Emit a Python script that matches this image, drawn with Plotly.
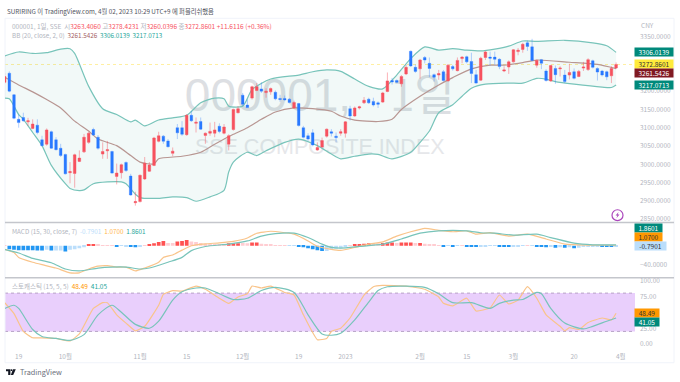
import plotly.graph_objects as go

# ---------- candle data ----------
opens = [3224,3249,3190,3123,3128,3116,3098,3107,3067,3055,3089,3067,3044,3027,2977,2975,3008,3034,3060,3095,
         3074,3028,3037,3035,2967,2977,3005,2968,2895,2898,2960,2981,2997,3063,3077,3064,3030,3100,3100,3081,
         3134,3112,3117,3079,3085,3085,3104,3085,3055,3095,3141,3189,3162,3181,3202,3206,3196,3198,3197,3180,
         3180,3178,3154,3166,3100,3078,3086,3039,3047,3077,3089,3077,3085,3085,3152,3132,3154,3168,3178,3172,
         3168,3170,3199,3229,3229,3220,3247,3309,3265,3261,3292,3276,3245,3244,3253,3228,3267,3256,3289,3294,
         3281,3245,3230,3292,3293,3293,3287,3255,3266,3280,3308,3314,3332,3321,3271,3286,3255,3228,3262,3261,
         3244,3244,3253,3240,3263,3259,3283,3262,3255,3253,3242,3263.4060]
highs = [3250,3254,3192,3136,3141,3127,3123,3123,3078,3098,3092,3074,3056,3029,3006,3029,3038,3083,3089,3100,
         3080,3060,3064,3037,3002,3002,3008,2974,2925,2972,3020,3006,3075,3089,3080,3069,3046,3110,3118,3137,
         3146,3128,3128,3087,3114,3116,3112,3110,3082,3152,3159,3195,3177,3215,3222,3224,3208,3210,3202,3190,
         3188,3181,3174,3168,3105,3085,3096,3060,3073,3098,3096,3087,3096,3118,3160,3158,3160,3184,3182,3182,
         3172,3198,3251,3236,3232,3244,3272,3311,3273,3288,3296,3292,3248,3258,3258,3274,3272,3292,3296,3297,
         3305,3258,3294,3310,3308,3308,3290,3268,3284,3315,3318,3332,3338,3343,3286,3288,3260,3272,3270,3268,
         3258,3275,3262,3258,3280,3290,3286,3265,3258,3256,3268,3278.4231]
lows = [3220,3197,3123,3100,3116,3105,3096,3082,3049,3051,3042,3038,3020,2972,2948,2936,3006,3031,3056,3078,
        3040,3015,3015,2974,2945,2961,2979,2914,2887,2896,2957,2979,2995,3060,3056,3046,3022,3069,3078,3078,
        3116,3087,3094,3056,3078,3074,3085,3082,3038,3092,3139,3159,3154,3177,3200,3195,3182,3190,3175,3171,
        3174,3166,3152,3103,3071,3064,3049,3037,3045,3073,3076,3060,3078,3073,3120,3130,3150,3165,3165,3158,
        3154,3168,3197,3218,3222,3212,3244,3266,3250,3234,3276,3238,3226,3231,3226,3226,3256,3254,3276,3276,
        3222,3220,3228,3285,3270,3272,3260,3252,3247,3278,3298,3305,3310,3282,3264,3260,3226,3225,3220,3240,
        3222,3232,3232,3238,3255,3255,3262,3229,3240,3230,3222,3260.0396]
closes = [3240,3200,3126,3114,3119,3119,3110,3087,3051,3094,3044,3040,3024,2974,2980,3026,3017,3074,3085,3080,
          3044,3035,3040,2976,2976,2999,2983,2916,2898,2970,3003,2998,3072,3078,3063,3048,3036,3086,3082,3134,
          3119,3115,3096,3085,3090,3094,3090,3102,3078,3150,3152,3164,3155,3212,3212,3200,3200,3207,3179,3177,
          3176,3169,3169,3106,3074,3069,3053,3046,3065,3096,3085,3073,3089,3116,3132,3154,3157,3175,3168,3162,
          3164,3195,3228,3225,3224,3240,3265,3269,3254,3285,3285,3262,3238,3248,3229,3271,3261,3284,3293,3280,
          3248,3222,3290,3307,3290,3287,3267,3258,3280,3313,3312,3328,3322,3284,3284,3276,3229,3270,3245,3263,
          3226,3251,3235,3254,3266,3286,3265,3252,3244,3239,3262,3272.8601]

# ---------- Bollinger bands ----------
upper_x = [0,3,6,9,12,14,15,18,21,24,27,28,30,33,36,39,42,45,47,48,51,53,57,63,66,69,72,75,78,81,84,87,90,93,96,99,
           102,105,108,111,114,120,126,129,131]
upper_v = [3296,3307,3303,3305,3315,3316,3303,3213,3152,3136,3116,3121,3105,3121,3127,3134,3168,3181,3179,3159,
           3159,3204,3233,3244,3253,3258,3254,3233,3213,3206,3244,3289,3321,3312,3316,3312,3310,3315,3323,3337,
           3336,3339,3332,3324,3306.0139]
mid_x = [0,3,6,9,12,15,18,20,24,27,29,32,33,38,42,45,49,52,55,58,62,66,70,72,75,80,83,85,89,93,96,100,104,107,111,
         114,121,127,131]
mid_v = [3238,3217,3198,3177,3154,3118,3091,3069,3051,3024,3006,3001,3015,3022,3033,3055,3082,3100,3123,3143,
         3154,3152,3145,3132,3121,3117,3123,3150,3186,3217,3237,3261,3271,3271,3278,3285,3279,3273,3261.5426]
lower_x = [0,1,3,4,6,8,10,13,14,16,17,19,22,25,26,28,29,33,36,39,41,44,47,48,49,52,54,56,60,63,67,70,72,75,78,80,83,
           87,89,91,93,96,98,100,103,108,111,114,116,118,122,128,130,131]
lower_v = [3181,3179,3136,3123,3087,3051,2997,2947,2934,2928,2930,2947,2952,2952,2947,2918,2909,2907,2911,2909,
           2899,2911,2929,2979,3006,3033,3024,3037,3060,3069,3051,3028,3015,3022,3028,3027,3015,3033,3060,3091,
           3141,3163,3186,3208,3219,3222,3222,3235,3233,3226,3219,3211,3210,3217.0713]

# ---------- MACD ----------
macd_x = [0,2,3,6,8,11,14,16,18,20,22,24,26,28,30,33,34,36,38,40,43,46,49,52,54,57,60,62,65,67,70,72,75,78,81,84,87,
          90,93,96,99,101,104,108,112,116,120,125,131]
macd_v = [-7,-14,-24,-34,-39,-46,-56,-56,-48,-42,-41,-44,-44,-52,-46,-34,-24,-19,-9,0,4,6,9,16,26,30,27,24,10,-1,
          -7.5,-9.5,-3.4,3.4,8,20,29,36,32,29,31,24,27,20,24,14,3.4,1.4,1.07]
signal_x = [0,3,6,10,13,16,20,23,26,29,31,35,38,40,43,48,52,55,58,62,65,68,70,72,76,81,85,89,93,99,102,105,109,114,
            117,122,126,131]
signal_v = [-8,-15,-26,-35,-48,-52,-46,-44,-44,-48,-46,-34,-24,-10,-1.4,3.4,10,20,25,26,17,3.4,-3.4,-4.8,-1.4,3.4,
            14,26,31,31,27,26,22,24,17,5.4,2,1.86]
hist_v = [1,-7,-8,-9,-9,-9,-9,-10,-10,-8,-10,-10,-10,-12,-8,-7,-5,-3,2,3,
          2,1,1,1,-2,-0.5,-1,-2,-3,-1,1,2,5,8,10,6,6,9,10,12,
          9,8,6,4,3,3,3,3,5,5,5,6,5,7,7,4,3,2,1,1,
          0.5,-0.5,-0.5,-2,-3,-5,-7,-9,-11,-11,-8,-6,-5,-2,1,3,3,4,5,5,
          5,6,7,7,6,7,7,7,6,6,4,3,2,1,-1,-0.5,-1,-0.5,0.5,-1,
          -2,-2.5,-1.5,-1,-0.5,-0.5,-1.5,-2,-2,-2,-1,-0.5,1,-0.5,-2,-2,-3,-2,-4,-3,
          -4,-3,-5,-4,-2,-1.5,-1,-1,-1.5,-1.5,-1.5,-0.79]
hist_strong = [0,1,1,1,1,1,1,1,1,0,1,0,0,1,0,0,0,0,1,1,
               0,0,0,0,1,0,0,1,1,0,0,1,1,1,1,0,0,1,1,1,
               0,0,0,0,0,0,0,0,1,1,1,0,0,1,1,0,0,0,0,0,
               0,0,0,1,1,1,1,1,1,0,0,0,0,0,0,1,1,1,1,0,
               0,1,1,1,0,1,1,1,0,1,0,0,0,0,1,0,1,0,0,1,
               1,1,0,0,0,0,1,1,1,0,0,0,0,0,1,1,1,0,1,0,
               1,0,1,0,0,0,0,0,1,1,1,0]

# ---------- Stochastic ----------
k_x = [0,2,4,6,8,11,14,16,19,21,22,24,26,28,30,33,34,36,38,41,43,46,48,50,52,53,55,57,60,62,64,67,69,70,72,74,77,79,
       81,86,90,93,94,96,99,101,104,106,108,110,112,114,116,119,120,121,123,125,128,130,131]
k_v = [65,48,20,10,10,9,5,16,56,65,65,46,33,21,28,61,78,84,83,91,86,72,64,74,79,91,88,91,81,77,46,7,9,20,25,41,77,90,
       92,91,86,74,64,60,72,52,57,77,63,69,90,72,46,28,21,26,23,34,41,38,48.49]
d_x = [0,2,3,6,8,11,14,17,20,23,25,28,31,33,36,38,41,43,46,49,52,55,58,62,65,68,70,72,75,78,80,82,86,90,93,96,100,
       104,106,109,111,114,115,117,120,124,126,129,131]
d_v = [56,61,56,23,12,9,6,15,46,61,50,31,25,36,69,82,88,88,79,70,72,84,89,81,46,16,14,17,38,66,84,90,91,89,79,65,65,
       56,64,69,70,81,79,56,33,24,28,36,41.05]

# ---------- axis labels ----------
x_tick_pos = [3,13,29,39,51,63,73,89,99,109,122,132]
x_tick_text = ["19","10월","11월","15","12월","19","2023","2월","15","3월","20","4월"]
price_ticks = [2850,2900,2950,3000,3050,3100,3150,3200,3350]
stoch_ticks = [0,25,75,100]
candle_x = list(range(len(closes)))

W, H = 680, 382
FONT = "Noto Sans CJK KR, Noto Sans, sans-serif"
GRAY = "#B2B5BE"
TEAL = "#00897B"
def px(x): return x / W
def py(y): return 1 - y / H
def pp(pts):
    return "M " + " L ".join(f"{px(a):.5f},{py(b):.5f}" for a, b in pts) + " Z"

fig = go.Figure()

# watermark (kept in the base subplot, beneath the candles)
wm = "#DDDFE3"
fig.add_trace(go.Scatter(x=[38.6], y=[3176], mode="text", text=["000001,"], xaxis="x", yaxis="y",
                         textposition="middle right", textfont=dict(size=46, color=wm, family="Liberation Sans"),
                         hoverinfo="skip"))
fig.add_trace(go.Scatter(x=[89.5], y=[3176], mode="text", text=["1일"], xaxis="x", yaxis="y",
                         textposition="middle center", textfont=dict(size=44, color=wm, family="Noto Sans CJK KR"),
                         hoverinfo="skip"))
fig.add_trace(go.Scatter(x=[67.5], y=[3042], mode="text", text=["SSE COMPOSITE INDEX"], xaxis="x", yaxis="y",
                         textposition="middle center",
                         textfont=dict(size=21.5, color="#E6E7EA", family="Liberation Sans"), hoverinfo="skip"))

teal_line = dict(color="#78C4BA", width=1.2, shape="spline", smoothing=0.7)
orange_line = dict(color="#F9C48A", width=1.2, shape="spline", smoothing=0.4)
fig.add_trace(go.Scatter(x=upper_x, y=upper_v, mode="lines", line=teal_line, xaxis="x", yaxis="y"))
fig.add_trace(go.Scatter(x=lower_x, y=lower_v, mode="lines", line=teal_line, fill="tonexty",
                         fillcolor="rgba(0,137,123,0.05)", xaxis="x", yaxis="y"))
fig.add_trace(go.Scatter(x=mid_x, y=mid_v, mode="lines",
                         line=dict(color="#B89692", width=1.2, shape="spline", smoothing=0.7), xaxis="x", yaxis="y"))

fig.add_trace(go.Candlestick(
    x=candle_x, open=opens, high=highs, low=lows, close=closes, xaxis="x", yaxis="y4",
    increasing=dict(line=dict(color="rgba(247,82,95,0.45)", width=1), fillcolor="#F7525F"),
    decreasing=dict(line=dict(color="rgba(41,121,255,0.35)", width=1), fillcolor="#2979FF"),
    whiskerwidth=0, hoverinfo="skip"))

# MACD
bar_colors = [("#FF5252" if s else "#FFCDD2") if v >= 0 else ("#2196F3" if s else "#BBDEFB")
              for v, s in zip(hist_v, hist_strong)]
fig.add_trace(go.Bar(x=candle_x, y=hist_v, marker=dict(color=bar_colors, line_width=0), xaxis="x2", yaxis="y2"))
fig.add_trace(go.Scatter(x=macd_x, y=macd_v, mode="lines", line=orange_line, xaxis="x2", yaxis="y2"))
fig.add_trace(go.Scatter(x=signal_x, y=signal_v, mode="lines", line=teal_line, xaxis="x2", yaxis="y2"))

# Stochastic
fig.add_trace(go.Scatter(x=k_x, y=k_v, mode="lines", line=orange_line, xaxis="x3", yaxis="y3"))
fig.add_trace(go.Scatter(x=d_x, y=d_v, mode="lines", line=teal_line, xaxis="x3", yaxis="y3"))

dom_x = [px(5), px(635)]
x_range = [0.07, 135.05]
common_x = dict(domain=dom_x, range=x_range, showgrid=False, zeroline=False, showline=False,
                rangeslider=dict(visible=False), fixedrange=True)
common_y = dict(side="right", showgrid=False, zeroline=False, showline=False, ticks="",
                tickfont=dict(size=6.5, color=GRAY, family=FONT), ticklabelstandoff=4)
price_range = [2842, 3400.4]

shapes = [
    dict(type="rect", xref="x3 domain", yref="y3", x0=0, x1=1, y0=20, y1=80, layer="below",
         fillcolor="#E9CFFC", line_width=0),
    dict(type="line", xref="x3 domain", yref="y3", x0=0, x1=1, y0=80, y1=80, layer="below",
         line=dict(color="#B7A3C6", width=1, dash="dot")),
    dict(type="line", xref="x3 domain", yref="y3", x0=0, x1=1, y0=20, y1=20, layer="below",
         line=dict(color="#B7A3C6", width=1, dash="dot")),
    dict(type="line", xref="x domain", yref="y", x0=0, x1=1, y0=closes[-1], y1=closes[-1], layer="below",
         line=dict(color="#FFEFA0", width=1, dash="dot")),
    dict(type="rect", xref="paper", yref="paper", x0=px(5), x1=px(674), y0=py(363.5), y1=py(14.5), layer="below",
         line=dict(color="#F0F3FA", width=1)),
    dict(type="line", xref="paper", yref="paper", x0=px(5), x1=px(674), y0=py(221.5), y1=py(221.5),
         line=dict(color="#C4C6CC", width=1.5)),
    dict(type="line", xref="paper", yref="paper", x0=px(5), x1=px(674), y0=py(277.5), y1=py(277.5),
         line=dict(color="#C4C6CC", width=1.5)),
    dict(type="circle", xref="paper", yref="paper", x0=px(612), x1=px(623), y0=py(219.5), y1=py(208.5),
         line=dict(color="#AB47BC", width=1.2), fillcolor="white"),
    dict(type="path", xref="paper", yref="paper",
         path=pp([(618.6, 210.8), (615.6, 214.4), (617.4, 214.4), (616.4, 217.2), (619.5, 213.4), (617.7, 213.4)]),
         fillcolor="#AB47BC", line_width=0),
    dict(type="path", xref="paper", yref="paper",
         path=pp([(6, 370), (10.4, 370), (10.4, 376), (8.2, 376), (8.2, 372), (6, 372)]),
         fillcolor="#131722", line_width=0),
    dict(type="path", xref="paper", yref="paper",
         path=pp([(13, 370), (15.8, 370), (13.2, 376), (10.8, 376)]), fillcolor="#131722", line_width=0),
    dict(type="circle", xref="paper", yref="paper", x0=px(10.6), x1=px(12.4), y0=py(371.9), y1=py(370.1),
         fillcolor="#131722", line_width=0),
]

anns = []
def text(x, y, s, size=7, color=GRAY, family=FONT):
    anns.append(dict(xref="paper", yref="paper", x=px(x), y=py(y), text=s, showarrow=False, xanchor="left",
                     yanchor="middle", align="left", font=dict(size=size, color=color, family=family)))
def label(val, yref, s, bg, fg, width=38, shift=0):
    anns.append(dict(xref="paper", yref=yref, x=px(634), y=val, text=s, showarrow=False, xanchor="left",
                     yanchor="middle", yshift=shift, width=width, height=8.4, bgcolor=bg, borderpad=0, align="center",
                     font=dict(size=6.5, color=fg, family=FONT)))

text(5, 8, "SURIRING 이 TradingView.com, 4월 02, 2023 10:29 UTC+9 에 퍼블리쉬했음", size=6.3, color="#50535E")
red = "#F7525F"
sp = lambda s, c: f"<span style='color:{c}'>{s}</span>"
text(9.5, 22, sp("000001, 1일, SSE", GRAY) + "  " + sp("시", GRAY) + sp("3263.4060", red) + " " + sp("고", GRAY) +
     sp("3278.4231", red) + " " + sp("저", GRAY) + sp("3260.0396", red) + " " + sp("종", GRAY) + sp("3272.8601", red) +
     " " + sp("+11.6116 (+0.36%)", red), size=6.5)
text(9.5, 31.5, sp("BB (20, close, 2, 0)", GRAY) + "  " + sp("3261.5426", "#A4605F") + "  " +
     sp("3306.0139", "#26A69A") + "  " + sp("3217.0713", "#26A69A"), size=6.3)
text(9.5, 230.5, sp("MACD (15, 30, close, 7)", GRAY) + "  " + sp("-0.7901", "#BBDEFB") + "  " +
     sp("1.0700", "#FFB74D") + "  " + sp("1.8601", "#26A69A"), size=6.3)
text(9.5, 286, sp("스토캐스틱 (15, 5, 5)", GRAY) + "  " + sp("48.49", "#FF9800") + "  " + sp("41.05", "#26A69A"), size=6.5)
text(639, 21.5, "CNY", size=6.5)
text(18, 373, "TradingView", size=7.3, color="#6A6D78")

label(3306.0139, "y", "3306.0139", TEAL, "white")
label(closes[-1], "y", "3272.8601", "#FFEB3B", "#333333")
label(3261.5426, "y", "3261.5426", "#801922", "white", shift=-4.5)
label(3217.0713, "y", "3217.0713", TEAL, "white")
label(1.8601, "y2", "1.8601", TEAL, "white", width=27, shift=16.5)
label(1.07, "y2", "1.0700", "#FF9800", "#333333", width=27, shift=8)
label(-0.7901, "y2", "-0.7901", "#BBDEFB", "#333333", width=31)
label(48.49, "y3", "48.49", "#FF9800", "#333333", width=24)
label(41.05, "y3", "41.05", TEAL, "white", width=24, shift=-3.6)

fig.update_layout(
    width=W, height=H, margin=dict(l=0, r=0, t=0, b=0), showlegend=False,
    paper_bgcolor="white", plot_bgcolor="rgba(0,0,0,0)", bargap=0.2, boxgap=0.2,
    xaxis=dict(**common_x, anchor="y", showticklabels=False, ticks=""),
    xaxis2=dict(**common_x, anchor="y2", showticklabels=False, ticks=""),
    xaxis3=dict(**common_x, anchor="y3", ticks="", tickmode="array", tickvals=x_tick_pos, ticktext=x_tick_text,
                tickfont=dict(size=6.5, color=GRAY, family=FONT), ticklabelstandoff=2),
    yaxis=dict(**common_y, domain=[py(221), py(14)], anchor="x", range=price_range, tickmode="array",
               tickvals=price_ticks, tickformat=".4f"),
    yaxis4=dict(domain=[py(221), py(14)], overlaying="y", anchor="x", range=price_range, visible=False),
    yaxis2=dict(**common_y, domain=[py(277), py(222)], anchor="x2", range=[-65.3, 46.9], tickmode="array",
                tickvals=[-40], tickformat=".4f"),
    yaxis3=dict(**common_y, domain=[py(350), py(278)], anchor="x3", range=[-8.2, 103.1], tickmode="array",
                tickvals=stoch_ticks, tickformat=".2f"),
    shapes=shapes, annotations=anns,
)
fig.write_html("out.html", config={"displayModeBar": False},
               post_script="document.body.style.margin='0';document.body.style.overflow='hidden';")
